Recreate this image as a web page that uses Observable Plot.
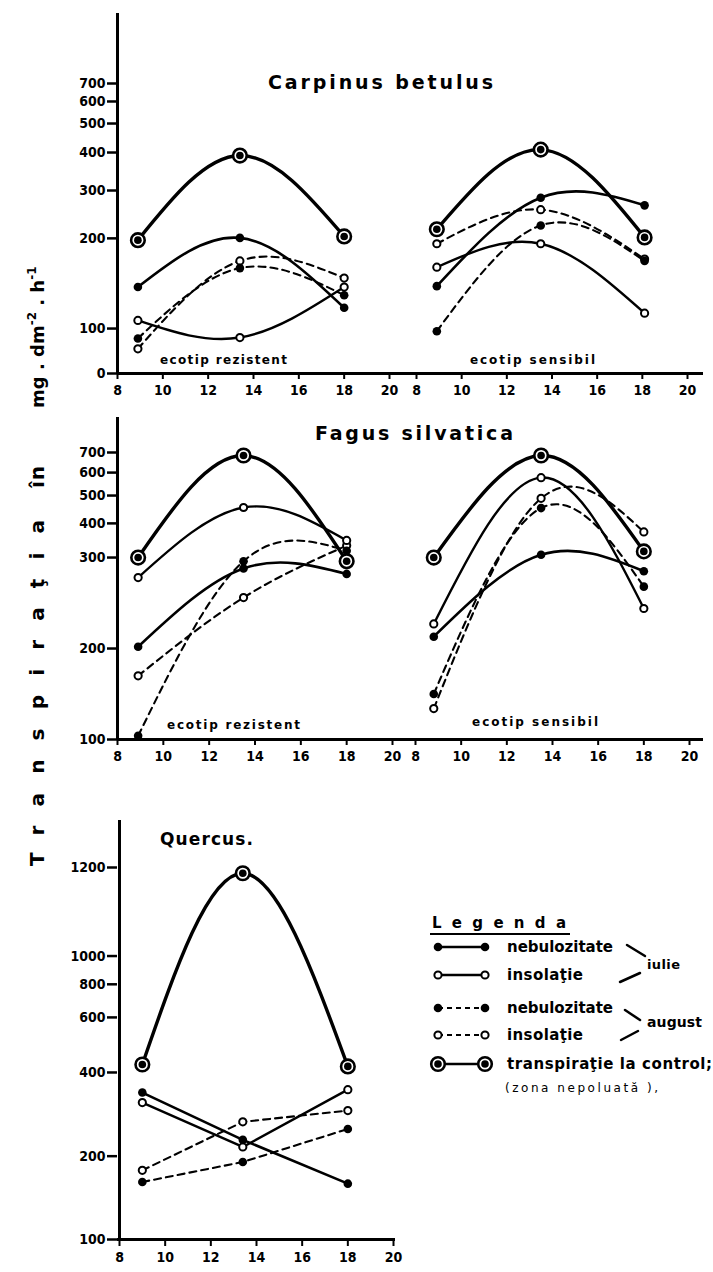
<!DOCTYPE html>
<html><head><meta charset="utf-8">
<script src="https://cdn.jsdelivr.net/npm/d3@7"></script>
<script src="https://cdn.jsdelivr.net/npm/@observablehq/plot@0.6"></script>
<style>
html,body{margin:0;padding:0;background:#fff;overflow:hidden;}
#page{position:relative;width:713px;height:1272px;overflow:hidden;background:#fff;}
#page svg{position:absolute;left:0;top:0;}
</style></head><body><div id="page"></div>
<script>
// ---------------- data ----------------
const xTicks = [8, 10, 12, 14, 16, 18, 20];
const carpinusYTicks = [0, 100, 200, 300, 400, 500, 600, 700];
const fagusYTicks = [100, 200, 300, 400, 500, 600, 700];
const quercusYTicks = [100, 200, 400, 600, 800, 1000, 1200];

// Carpinus betulus – ecotip rezistent
const carpRezHours = [8.9, 13.4, 18];
const carpRezNebIulie = [146, 201, 123];
const carpRezInsIulie = [109, 80, 146];
const carpRezNebAug = [78, 167, 137];
const carpRezInsAug = [55, 175, 156];
const carpRezControl = [198, 392, 204];

// Carpinus betulus – ecotip sensibil
const carpSensHours = [8.9, 13.5, 18.1];
const carpSensNebIulie = [147, 285, 269];
const carpSensInsIulie = [168, 194, 117];
const carpSensNebAug = [94, 227, 175];
const carpSensInsAug = [194, 260, 177];
const carpSensControl = [219, 410, 202];

// Fagus silvatica – ecotip rezistent
const fagRezHours = [8.9, 13.5, 18];
const fagRezNebIulie = [202, 288, 282];
const fagRezInsIulie = [278, 457, 350];
const fagRezNebAug = [104, 296, 320];
const fagRezInsAug = [170, 256, 335];
const fagRezControl = [300, 685, 296];

// Fagus silvatica – ecotip sensibil
const fagSensHours = [8.8, 13.5, 18];
const fagSensNebIulie = [213, 308, 285];
const fagSensInsIulie = [227, 578, 244];
const fagSensNebAug = [150, 455, 268];
const fagSensInsAug = [134, 490, 375];
const fagSensControl = [300, 685, 318];

// Quercus
const quercusHours = [9, 13.4, 18];
const quercusNebIulie = [352, 239, 167];
const quercusInsIulie = [328, 222, 359];
const quercusNebAug = [169, 193, 265];
const quercusInsAug = [183, 282, 309];
const quercusControl = [429, 1187, 422];

// text
const titles = ["Carpinus  betulus", "Fagus  silvatica", "Quercus."];
const ecotipLabels = ["ecotip  rezistent", "ecotip   sensibil"];
const yLabelWord = "Transpiraţia";
const yLabelIn = "în";
const legendTitle = "Legenda";
const legendLabels = ["nebulozitate", "insolaţie", "nebulozitate", "insolaţie", "transpiraţie la control;"];
const legendNote = "(zona  nepoluată ),";
const monthLabels = ["iulie", "august"];

// ---------------- styles / layout ----------------
const W = 713, H = 1272;
const FONT = "'DejaVu Sans Condensed','DejaVu Sans',sans-serif";
const styles = {
  nebIulie: {dash: null, width: 2.6, marker: "filled"},
  insIulie: {dash: null, width: 2.4, marker: "open"},
  nebAug: {dash: "7,5", width: 2.1, marker: "filled"},
  insAug: {dash: "7,5", width: 2.1, marker: "open"},
  control: {dash: null, width: 3.4, marker: "control"}
};

// the printed value axes are non-uniform: relative height (0 = x axis, 1 = top tick) of each tick
const carpinusTickFrac = [0, 0.155, 0.466, 0.631, 0.762, 0.862, 0.938, 1];
const fagusTickFrac = [0, 0.317, 0.634, 0.753, 0.85, 0.93, 1];
const quercusTickFrac = [0, 0.224, 0.449, 0.597, 0.686, 0.762, 1];

const panels = [
  {hours: carpRezHours, s: {nebIulie: carpRezNebIulie, insIulie: carpRezInsIulie, nebAug: carpRezNebAug, insAug: carpRezInsAug, control: carpRezControl},
   yTicks: carpinusYTicks, frac: carpinusTickFrac, yRange: [373, 83], xRange: [117, 389],
   m: [117, W - 389, 13, H - 373], yAxis: true, straight: false},
  {hours: carpSensHours, s: {nebIulie: carpSensNebIulie, insIulie: carpSensInsIulie, nebAug: carpSensNebAug, insAug: carpSensInsAug, control: carpSensControl},
   yTicks: carpinusYTicks, frac: carpinusTickFrac, yRange: [373, 83], xRange: [416, 687],
   m: [389, 10, 13, H - 373], yAxis: false, straight: false},
  {hours: fagRezHours, s: {nebIulie: fagRezNebIulie, insIulie: fagRezInsIulie, nebAug: fagRezNebAug, insAug: fagRezInsAug, control: fagRezControl},
   yTicks: fagusYTicks, frac: fagusTickFrac, yRange: [739, 452], xRange: [117, 392],
   m: [117, W - 392, 417, H - 739], yAxis: true, straight: false},
  {hours: fagSensHours, s: {nebIulie: fagSensNebIulie, insIulie: fagSensInsIulie, nebAug: fagSensNebAug, insAug: fagSensInsAug, control: fagSensControl},
   yTicks: fagusYTicks, frac: fagusTickFrac, yRange: [739, 452], xRange: [415, 689],
   m: [392, 10, 417, H - 739], yAxis: false, straight: false},
  {hours: quercusHours, s: {nebIulie: quercusNebIulie, insIulie: quercusInsIulie, nebAug: quercusNebAug, insAug: quercusInsAug, control: quercusControl},
   yTicks: quercusYTicks, frac: quercusTickFrac, yRange: [1239, 867], xRange: [119, 393],
   m: [117, W - 395, 820, H - 1240], yAxis: true, straight: true}
];

const page = document.getElementById("page");

function drawPanel(p) {
  const warp = d3.scaleLinear().domain(p.yTicks).range(p.frac); // piecewise value axis
  const marks = [];
  marks.push(Plot.ruleY([p.yTicks[0]], {stroke: "black", strokeWidth: 3}));
  if (p.yAxis) marks.push(Plot.ruleX([xTicks[0]], {stroke: "black", strokeWidth: 3}));
  marks.push(Plot.axisX({ticks: xTicks, tickSize: 6, tickPadding: 6, fontSize: 14, fontWeight: "bold", label: null,
    tickFormat: d => String(d), strokeWidth: 2, fill: "black", stroke: "black"}));
  if (p.yAxis) marks.push(Plot.axisY({ticks: p.frac, tickSize: 10, tickPadding: 2, fontSize: 14, fontWeight: "bold", label: null,
    tickFormat: d => String(p.yTicks[p.frac.indexOf(d)]), strokeWidth: 2.5, fill: "black", stroke: "black"}));
  const order = ["insAug", "nebAug", "insIulie", "nebIulie", "control"];
  for (const key of order) {
    const st = styles[key];
    const rows = p.hours.map((h, i) => ({hour: h, value: p.s[key][i]}));
    const curve = (p.straight && key !== "control") ? "linear" : "natural";
    marks.push(Plot.line(rows, {x: "hour", y: "value", curve, stroke: "black", strokeWidth: st.width,
      strokeDasharray: st.dash ?? undefined, strokeLinecap: "round"}));
  }
  for (const key of order) {
    const st = styles[key];
    const rows = p.hours.map((h, i) => ({hour: h, value: p.s[key][i]}));
    if (st.marker === "filled") marks.push(Plot.dot(rows, {x: "hour", y: "value", r: 4.3, fill: "black", stroke: "none"}));
    else if (st.marker === "open") marks.push(Plot.dot(rows, {x: "hour", y: "value", r: 3.6, fill: "white", stroke: "black", strokeWidth: 2}));
    else {
      marks.push(Plot.dot(rows, {x: "hour", y: "value", r: 6.8, fill: "white", stroke: "black", strokeWidth: 2.6}));
      marks.push(Plot.dot(rows, {x: "hour", y: "value", r: 3.8, fill: "black", stroke: "none"}));
    }
  }
  const svg = Plot.plot({
    width: W, height: H,
    marginLeft: p.m[0], marginRight: p.m[1], marginTop: p.m[2], marginBottom: p.m[3],
    style: {background: "transparent", fontFamily: FONT, overflow: "visible", maxWidth: "none"},
    x: {domain: [8, 20], range: p.xRange, axis: null, label: null},
    y: {type: "linear", transform: warp, domain: [0, 1], range: p.yRange, axis: null, label: null},
    marks
  });
  page.appendChild(svg);
}
panels.forEach(drawPanel);

// ---------------- overlay text, y label and legend ----------------
const ov = d3.select(page).append("svg").attr("width", W).attr("height", H)
  .style("font-family", "'DejaVu Sans',sans-serif").attr("fill", "black");

function txt(x, y, s, opts = {}) {
  const t = ov.append("text").attr("x", x).attr("y", y).text(s)
    .attr("font-size", opts.size || 14).attr("font-weight", opts.weight || "bold")
    .attr("text-anchor", opts.anchor || "start");
  if (opts.len) t.attr("textLength", opts.len).attr("lengthAdjust", "spacing");
  if (opts.ls) t.attr("letter-spacing", opts.ls);
  return t;
}

// titles
txt(268, 89, titles[0], {size: 19, len: 225});
txt(315, 440, titles[1], {size: 19, len: 198});
txt(160, 845, titles[2], {size: 17, len: 93});

// ecotip labels
txt(160, 364, ecotipLabels[0], {size: 12, len: 127});
txt(470, 364, ecotipLabels[1], {size: 12, len: 125});
txt(167, 729, ecotipLabels[0], {size: 12, len: 133});
txt(472, 726, ecotipLabels[1], {size: 12, len: 126});

// vertical y label
const yl = ov.append("g").attr("font-weight", "bold").attr("font-size", 20);
yl.append("text").attr("transform", "translate(44,866) rotate(-90)")
  .attr("textLength", 346).attr("lengthAdjust", "spacing").text(yLabelWord);
yl.append("text").attr("transform", "translate(44,488) rotate(-90)")
  .attr("textLength", 22).attr("lengthAdjust", "spacing").text(yLabelIn);
const unit = yl.append("text").attr("transform", "translate(44,408) rotate(-90)").attr("font-size", 18);
unit.append("tspan").text("mg . dm");
unit.append("tspan").attr("font-size", 12).attr("dy", -8).text("-2");
unit.append("tspan").attr("dy", 8).text(" . h");
unit.append("tspan").attr("font-size", 12).attr("dy", -8).text("-1");

// legend
txt(432, 928, legendTitle, {size: 15, len: 134});
ov.append("line").attr("x1", 430).attr("x2", 570).attr("y1", 934).attr("y2", 934).attr("stroke", "black").attr("stroke-width", 2);
const rowsY = [947, 975, 1008, 1035, 1064];
const widths = [106, 76, 106, 76, 205];
const kinds = ["filled", "open", "filled", "open", "control"];
rowsY.forEach((y, i) => {
  const dashed = i === 2 || i === 3;
  ov.append("line").attr("x1", 438).attr("x2", 485).attr("y1", y).attr("y2", y)
    .attr("stroke", "black").attr("stroke-width", dashed ? 2 : 2.5).attr("stroke-dasharray", dashed ? "5,4" : null);
  [438, 485].forEach(cx => {
    if (kinds[i] === "filled") ov.append("circle").attr("cx", cx).attr("cy", y).attr("r", 4.3).attr("fill", "black");
    else if (kinds[i] === "open") ov.append("circle").attr("cx", cx).attr("cy", y).attr("r", 3.6).attr("fill", "white").attr("stroke", "black").attr("stroke-width", 2);
    else {
      ov.append("circle").attr("cx", cx).attr("cy", y).attr("r", 6.8).attr("fill", "white").attr("stroke", "black").attr("stroke-width", 2.6);
      ov.append("circle").attr("cx", cx).attr("cy", y).attr("r", 3.8).attr("fill", "black");
    }
  });
  txt(507, y + 5, legendLabels[i], {size: 15, len: widths[i]});
});
txt(505, 1092, legendNote, {size: 12, weight: "normal", len: 153});
// brackets
const br = [[627, 945, 645, 956], [620, 982, 640, 973], [625, 1010, 640, 1020], [621, 1040, 638, 1031]];
br.forEach(b => ov.append("line").attr("x1", b[0]).attr("y1", b[1]).attr("x2", b[2]).attr("y2", b[3])
  .attr("stroke", "black").attr("stroke-width", 2.5).attr("stroke-linecap", "round"));
txt(647, 969, monthLabels[0], {size: 13, len: 33});
txt(647, 1027, monthLabels[1], {size: 14, len: 55});
</script>
</body></html>
